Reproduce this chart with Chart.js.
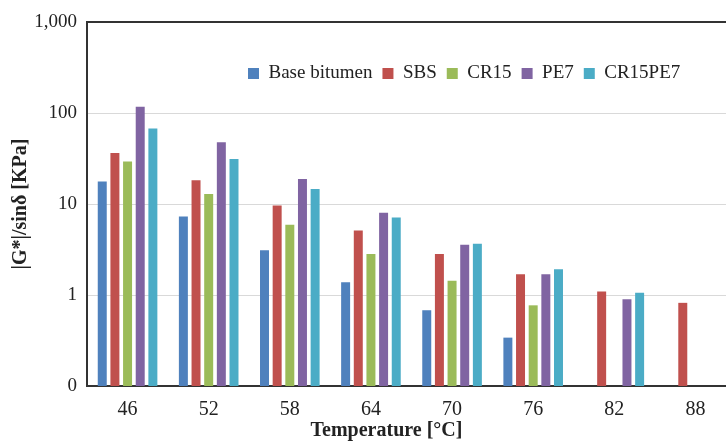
<!DOCTYPE html>
<html>
<head>
<meta charset="utf-8">
<script src="https://cdn.jsdelivr.net/npm/chart.js@4/dist/chart.umd.min.js"></script>
<style>
  html, body { margin: 0; padding: 0; background: #fff; overflow: hidden; width: 726px; height: 443px; }
  canvas { display: block; }
</style>
</head>
<body>
<canvas id="c" width="737" height="443"></canvas>
<script>
const categories = ['46', '52', '58', '64', '70', '76', '82', '88'];
const seriesNames = ['Base bitumen', 'SBS', 'CR15', 'PE7', 'CR15PE7'];
const baseBitumen = [17.7, 7.3, 3.1, 1.38, 0.68, 0.34, null, null];
const sbs        = [36.4, 18.2, 9.6, 5.1, 2.83, 1.69, 1.09, 0.82];
const cr15       = [29.4, 12.9, 5.9, 2.83, 1.43, 0.77, null, null];
const pe7        = [117, 47.6, 18.8, 8.0, 3.56, 1.69, 0.9, null];
const cr15pe7    = [67.5, 31.3, 14.6, 7.1, 3.65, 1.92, 1.06, null];
const yTickValues = [0.1, 1, 10, 100, 1000];
const yTickLabels = ['0', '1', '10', '100', '1,000'];
const colors = ['#4F81BD', '#C0504D', '#9BBB59', '#8064A2', '#4BACC6'];

const seriesValues = [baseBitumen, sbs, cr15, pe7, cr15pe7];
const FONT = "'Liberation Serif', 'Times New Roman', serif";
const TXT = '#222';

const legendInside = {
  id: 'legendInside',
  afterInit(chart) {
    const lg = chart.legend;
    if (!lg) return;
    const origFit = lg.fit.bind(lg);
    lg.fit = function () {
      origFit();
      this._realH = this.height;
      this.height = 0;
    };
  },
  afterLayout(chart) {
    const lg = chart.legend;
    if (!lg) return;
    lg.left = 238;
    lg.right = 238 + 480;
    lg.width = 480;
    lg.top = 54;
    lg.height = lg._realH || 40;
    lg.bottom = lg.top + lg.height;
  },
  beforeDraw(chart) {
    const x = chart.scales.x;
    if (x && !x._titleShifted) {
      const orig = x.drawTitle.bind(x);
      x.drawTitle = function () {
        const ctx = this.ctx;
        ctx.save();
        ctx.translate(-25, 0);
        orig();
        ctx.restore();
      };
      x._titleShifted = true;
    }
  }
};

new Chart(document.getElementById('c'), {
  type: 'bar',
  data: {
    labels: categories,
    datasets: seriesNames.map((name, i) => ({
      label: name,
      data: seriesValues[i],
      backgroundColor: colors[i],
      borderWidth: 0,
      categoryPercentage: 0.78,
      barPercentage: 0.71
    }))
  },
  options: {
    responsive: false,
    animation: false,
    devicePixelRatio: 1,
    layout: { padding: { top: 22, right: 1, left: 0, bottom: 0 } },
    plugins: {
      legend: {
        position: 'top',
        align: 'start',
        labels: {
          boxWidth: 11,
          boxHeight: 11,
          padding: 10,
          color: TXT,
          font: { family: FONT, size: 19 }
        }
      },
      tooltip: { enabled: false }
    },
    scales: {
      x: {
        grid: { display: false, drawTicks: false },
        border: { display: true, color: '#333', width: 2 },
        ticks: { color: TXT, font: { family: FONT, size: 20 }, padding: 12, maxRotation: 0 },
        title: {
          display: true,
          text: 'Temperature [°C]',
          color: TXT,
          font: { family: FONT, size: 20, weight: 'bold' },
          padding: { top: 0, bottom: 0 }
        },
        afterFit(scale) { scale.height = 57; }
      },
      y: {
        type: 'logarithmic',
        min: 0.1,
        max: 1000,
        afterBuildTicks(scale) { scale.ticks = yTickValues.map(v => ({ value: v })); },
        grid: {
          drawTicks: false,
          color: ctx => (ctx.tick && ctx.tick.value === 1000 ? '#333' : '#d9d9d9'),
          lineWidth: ctx => (ctx.tick && ctx.tick.value === 1000 ? 2 : 1)
        },
        border: { display: true, color: '#333', width: 2 },
        ticks: {
          color: TXT,
          font: { family: FONT, size: 19 },
          padding: 10,
          callback: (v) => {
            const i = yTickValues.indexOf(v);
            return i >= 0 ? yTickLabels[i] : '';
          }
        },
        title: {
          display: true,
          text: '|G*|/sinδ [KPa]',
          color: TXT,
          font: { family: FONT, size: 20, weight: 'bold' },
          padding: { top: 9, bottom: 0 }
        },
        afterFit(scale) { scale.width = 87; }
      }
    }
  },
  plugins: [legendInside]
});
</script>
</body>
</html>
